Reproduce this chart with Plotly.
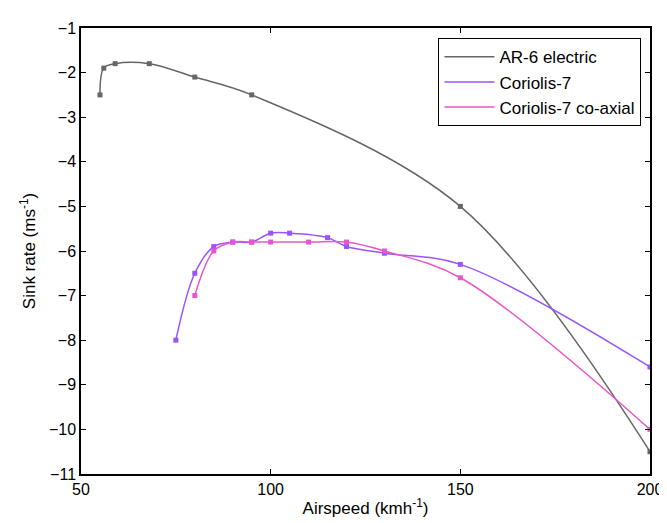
import plotly.graph_objects as go

# AR-6 electric
ar6_x = [55, 56, 59, 68, 80, 95, 150, 200]
ar6_y = [-2.5, -1.9, -1.8, -1.8, -2.1, -2.5, -5.0, -10.5]

# Coriolis-7
c7_x = [75, 80, 85, 90, 95, 100, 105, 115, 120, 130, 150, 200]
c7_y = [-8.0, -6.5, -5.9, -5.8, -5.8, -5.6, -5.6, -5.7, -5.9, -6.05, -6.3, -8.6]

# Coriolis-7 co-axial
cx_x = [80, 85, 90, 95, 100, 110, 120, 130, 150, 200]
cx_y = [-7.0, -6.0, -5.8, -5.8, -5.8, -5.8, -5.8, -6.0, -6.6, -10.0]

x_ticks = [50, 100, 150, 200]
y_ticks = [-1, -2, -3, -4, -5, -6, -7, -8, -9, -10, -11]

FONT = "Liberation Sans, Arial"

fig = go.Figure()
series = [
    ("AR-6 electric", ar6_x, ar6_y, "#666666"),
    ("Coriolis-7", c7_x, c7_y, "#9a55ff"),
    ("Coriolis-7 co-axial", cx_x, cx_y, "#e855cc"),
]
for name, xs, ys, col in series:
    fig.add_trace(go.Scatter(
        x=xs, y=ys, name=name, mode="lines+markers", showlegend=False,
        line=dict(color=col, width=1.5, shape="spline", smoothing=1.0),
        marker=dict(symbol="square", size=5, color=col),
    ))
# legend entries show line only
for name, xs, ys, col in series:
    fig.add_trace(go.Scatter(
        x=[None], y=[None], name=name, mode="lines",
        line=dict(color=col, width=1.5),
    ))

axis_common = dict(
    showline=True, linecolor="black", linewidth=1.5, mirror="ticks",
    ticks="inside", ticklen=5, tickcolor="black", showgrid=False, zeroline=False,
    tickfont=dict(family=FONT, size=16, color="black"),
)
fig.update_xaxes(range=[50, 200], tickvals=x_ticks,
                 title=dict(text="Airspeed (kmh<sup>-1</sup>)", standoff=5,
                            font=dict(family=FONT, size=17, color="black")),
                 **axis_common)
fig.update_yaxes(range=[-11, -1], tickvals=y_ticks,
                 title=dict(text="Sink rate (ms<sup>-1</sup>)", standoff=9,
                            font=dict(family=FONT, size=17, color="black")),
                 **axis_common)

fig.update_layout(
    width=667, height=523,
    margin=dict(l=73, r=14, t=14, b=57),
    paper_bgcolor="white", plot_bgcolor="white",
    font=dict(family=FONT, size=16, color="black"),
    legend=dict(x=0.985, y=0.977, xanchor="right", yanchor="top",
                bordercolor="black", borderwidth=1, bgcolor="white",
                font=dict(family=FONT, size=17, color="black"),
                tracegroupgap=0, itemwidth=50),
    showlegend=True,
)
fig.write_html("out.html")
